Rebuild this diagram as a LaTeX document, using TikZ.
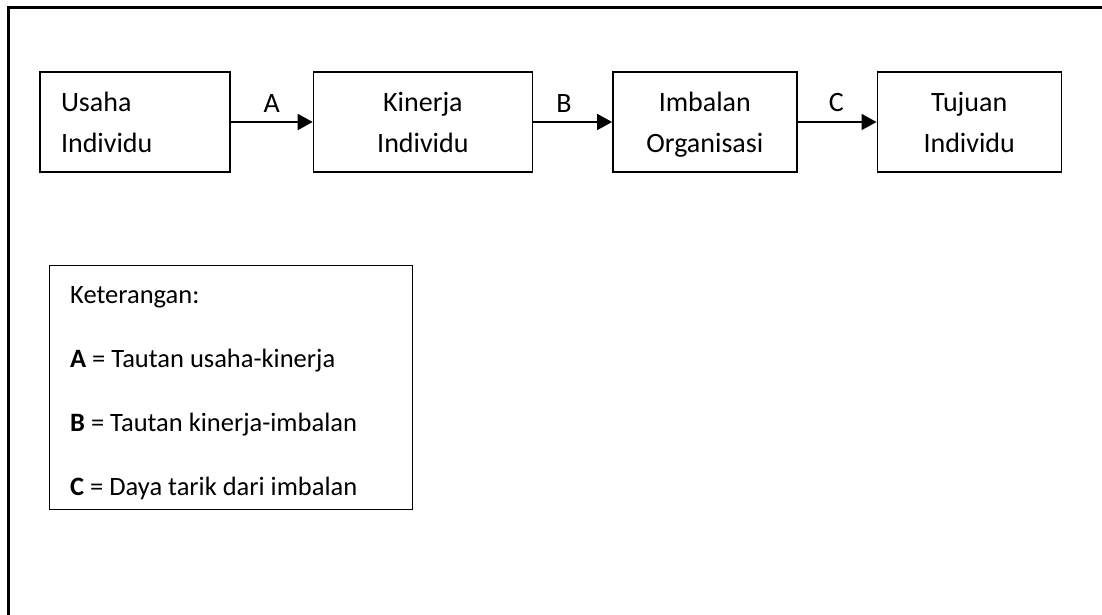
\documentclass[tikz,border=0pt]{standalone}
\usepackage{fontspec}
\setmainfont{Carlito}
\usetikzlibrary{positioning,arrows.meta}

\begin{document}
\begin{tikzpicture}
  [x=1pt, y=1pt, node distance=79pt,
   box/.style={draw, line width=1.4pt, minimum height=100pt, minimum width=184pt,
     align=center, inner sep=0pt, font=\fontsize{28}{41}\selectfont},
   arr/.style={line width=1.8pt, -{Triangle[length=15pt,width=16pt]}},
   lbl/.style={above=9pt, inner sep=0pt, font=\fontsize{28}{30}\selectfont},
   legendbox/.style={draw, line width=1.4pt, minimum width=363pt, minimum height=244pt, inner sep=0pt},
   legendtext/.style={align=left, inner sep=0pt, font=\fontsize{26.5}{64}\selectfont}]

  \useasboundingbox (0,0) rectangle (1102,615);
  \draw[line width=2.8pt] (8.5,0) -- (8.5,607.5) -- (1102,607.5);

  \node[box, minimum width=190pt, text width=148pt, align=left, inner xsep=21pt] (usaha) at (135,493) {Usaha\\Individu};
  \node[box, minimum width=219pt, right=82pt of usaha] (kinerja) {Kinerja\\Individu};
  \node[box, right=of kinerja] (imbalan) {Imbalan\\\smash{Organisasi}};
  \node[box, right=of imbalan] (tujuan) {Tujuan\\Individu};

  \draw[arr] (usaha) -- node[lbl] {A} (kinerja);
  \draw[arr] (kinerja) -- node[lbl, pos=.39] {B} (imbalan);
  \draw[arr] (imbalan) -- node[lbl, pos=.49] {C} (tujuan);

  \node[legendbox, anchor=north west] (legend) at (49,350) {};
  \node[legendtext, anchor=north west] (keterangan) at (70,329)
    {Keterangan:\\
     \textbf{A} = Tautan usaha-kinerja\\
     \textbf{B} = Tautan kinerja-imbalan\\
     \textbf{C} = Daya tarik dari imbalan};
\end{tikzpicture}
\end{document}
